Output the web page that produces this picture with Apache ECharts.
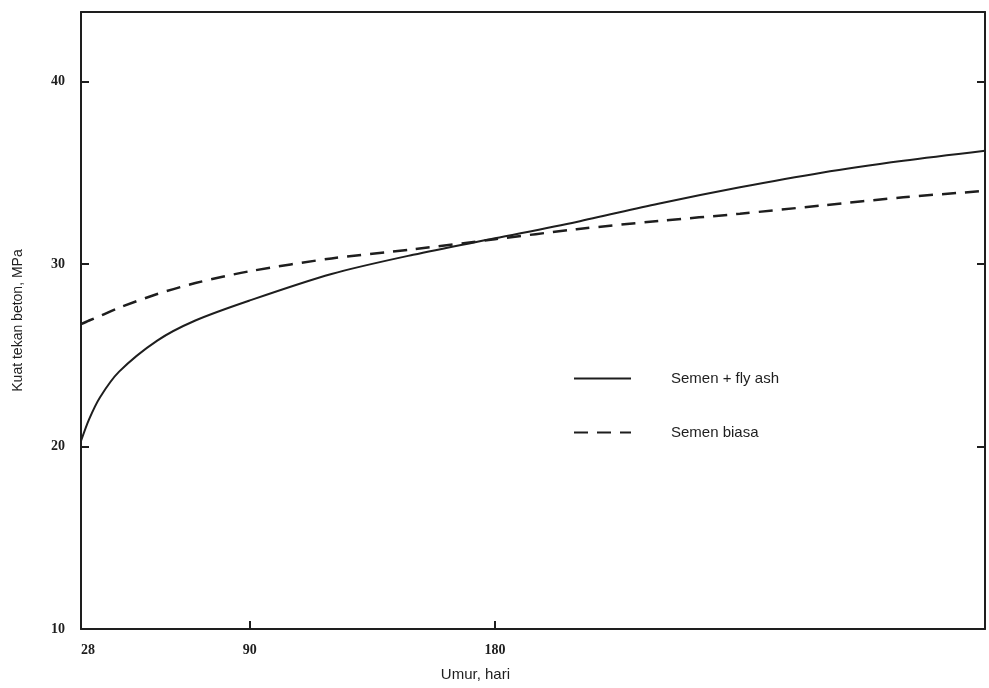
<!DOCTYPE html>
<html>
<head>
<meta charset="utf-8">
<title>Kuat tekan beton</title>
<script src="https://cdn.jsdelivr.net/npm/echarts@6/dist/echarts.min.js"></script>
<style>
  html, body { margin: 0; padding: 0; background: #fff; }
  #chart { width: 989px; height: 688px; }
</style>
</head>
<body>
<div id="chart"></div>
<script>
// umur (hari)
var days = [28, 31, 35, 42, 56, 70, 90, 120, 150, 180, 210, 240, 270, 300, 330, 360]
// Semen + fly ash (MPa)
var flyAsh = [20.3, 21.5, 22.7, 24.1, 25.8, 26.9, 28.0, 29.45, 30.5, 31.4, 32.3, 33.3, 34.2, 35.0, 35.65, 36.2]
// Semen biasa (MPa)
var biasa = [26.7, 26.9, 27.15, 27.6, 28.35, 28.95, 29.6, 30.3, 30.8, 31.35, 31.9, 32.35, 32.75, 33.2, 33.65, 34.0]
var xTicks = [28, 90, 180]
var yTicks = [10, 20, 30, 40]

var ink = '#1e1e1e'

function pairs (xs, ys) {
  return xs.map(function (x, i) { return [x, ys[i]] })
}

var myChart = echarts.init(document.getElementById('chart'))
myChart.setOption({
  backgroundColor: '#fff',
  animation: false,
  grid: { left: 81, right: 4, top: 12, bottom: 59 },
  legend: {
    orient: 'vertical',
    left: 568,
    top: 366,
    itemWidth: 57,
    itemHeight: 14,
    itemGap: 39,
    itemStyle: { opacity: 0 }, // 只要线，不要圆点
    textStyle: {
      color: ink,
      fontFamily: 'Liberation Sans',
      fontSize: 15,
      padding: [0, 0, 0, 35]
    },
    data: ['Semen + fly ash', 'Semen biasa']
  },
  xAxis: [
    {
      type: 'value',
      min: 28,
      max: 360,
      name: 'Umur, hari',
      nameLocation: 'middle',
      nameGap: 38,
      nameTextStyle: {
        color: ink,
        fontFamily: 'Liberation Sans',
        fontSize: 15,
        align: 'right',
        padding: [0, 23, 0, 0]
      },
      axisLine: { lineStyle: { color: ink, width: 2 } },
      axisTick: { inside: true, length: 8, customValues: xTicks, lineStyle: { color: ink, width: 2 } },
      axisLabel: {
        customValues: xTicks,
        margin: 14,
        alignMinLabel: 'left',
        color: ink,
        fontFamily: 'Liberation Serif',
        fontWeight: 'bold',
        fontSize: 14
      },
      splitLine: { show: false }
    },
    {
      // 上边框
      type: 'value',
      position: 'top',
      min: 28,
      max: 360,
      axisLine: { show: true, lineStyle: { color: ink, width: 2 } },
      axisTick: { show: false },
      axisLabel: { show: false },
      splitLine: { show: false }
    }
  ],
  yAxis: [
    {
      type: 'value',
      min: 10,
      max: 43.8,
      name: 'Kuat tekan beton, MPa',
      nameLocation: 'middle',
      nameRotate: 90,
      nameGap: 56,
      nameTextStyle: {
        color: ink,
        fontFamily: 'Liberation Sans',
        fontSize: 14
      },
      axisLine: { show: true, lineStyle: { color: ink, width: 2 } },
      axisTick: { inside: true, length: 8, customValues: yTicks, lineStyle: { color: ink, width: 2 } },
      axisLabel: {
        customValues: yTicks,
        margin: 16,
        color: ink,
        fontFamily: 'Liberation Serif',
        fontWeight: 'bold',
        fontSize: 14
      },
      splitLine: { show: false }
    },
    {
      // 右边框，带刻度
      type: 'value',
      position: 'right',
      min: 10,
      max: 43.8,
      axisLine: { show: true, lineStyle: { color: ink, width: 2 } },
      axisTick: { inside: true, length: 8, customValues: [20, 30, 40], lineStyle: { color: ink, width: 2 } },
      axisLabel: { show: false },
      splitLine: { show: false }
    }
  ],
  series: [
    {
      name: 'Semen + fly ash',
      type: 'line',
      data: pairs(days, flyAsh),
      smooth: 0.3,
      symbol: 'none',
      color: ink,
      lineStyle: { color: ink, width: 2, type: 'solid' }
    },
    {
      name: 'Semen biasa',
      type: 'line',
      data: pairs(days, biasa),
      smooth: 0.3,
      symbol: 'none',
      color: ink,
      lineStyle: { color: ink, width: 2.5, type: [14, 9] }
    }
  ]
})
</script>
</body>
</html>
